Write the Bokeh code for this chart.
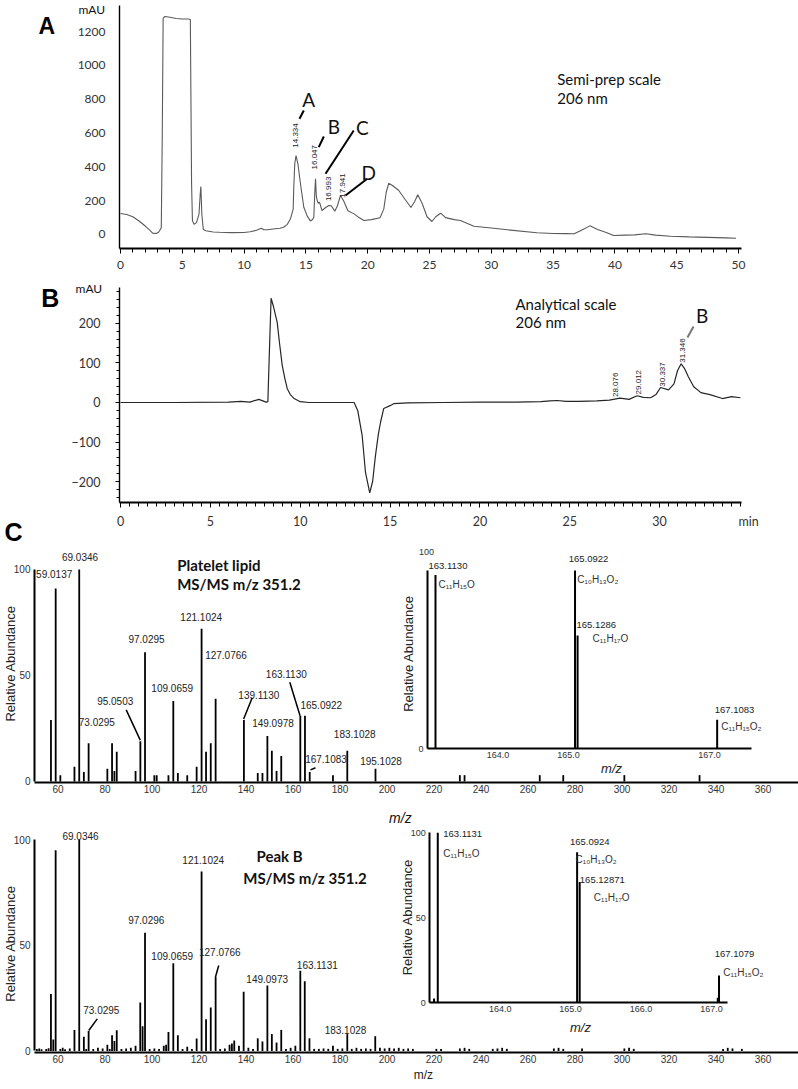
import math
from bokeh.plotting import figure
from bokeh.layouts import column
from bokeh.models import Range1d, LinearAxis, FixedTicker, Label, PrintfTickFormatter
from bokeh.core.properties import value
from bokeh.embed import file_html
from bokeh.resources import INLINE

# ---------------- Panel A: semi-prep chromatogram (min, mAU) ----------------
semi_time = [0, 0.5, 1, 1.5, 2, 2.3, 2.6, 2.9, 3.1, 3.3, 3.38, 3.45, 3.6, 4.0, 4.5, 5.0, 5.5, 5.65,
             5.75, 5.82, 5.95, 6.15, 6.35, 6.45, 6.5, 6.58, 6.7, 6.9, 7.5, 8, 9, 10, 10.5, 11, 11.4,
             11.6, 11.9, 12.5, 12.9, 13.2, 13.5, 13.75, 13.97, 14.02, 14.1, 14.2, 14.35, 14.56, 14.83,
             15.1, 15.37, 15.55, 15.64, 15.72, 15.78, 15.84, 15.91, 16.0, 16.1, 16.3, 16.6, 16.85, 17.05,
             17.34, 17.55, 17.8, 18.05, 18.4, 18.9, 19.3, 19.7, 20.3, 21.0, 21.3, 21.5, 21.7, 22.0, 22.5,
             23.0, 23.5, 23.8, 24.05, 24.4, 24.8, 25.2, 25.5, 25.9, 26.3, 27.0, 27.5, 28.6, 30.0, 31.3,
             33.7, 35.0, 36.0, 36.7, 37.3, 37.97, 38.6, 39.3, 39.9, 40.8, 41.6, 42.5, 43.3, 44.5, 46.0,
             47.5, 49.0, 49.8]
semi_mau = [124, 118, 105, 80, 50, 30, 8, 6, 15, 40, 600, 1280, 1290, 1285, 1278, 1275, 1275, 1272,
            300, 83, 60, 70, 120, 240, 284, 120, 30, 22, 15, 13, 11, 12, 16, 25, 37,
            28, 28, 34, 37, 43, 60, 93, 150, 280, 420, 467, 420, 300, 161,
            110, 79, 90, 102, 250, 330, 230, 201, 185, 191, 142, 160, 172, 170,
            138, 170, 231, 200, 140, 122, 100, 83, 88, 99, 150, 250, 303, 290, 262,
            210, 160, 195, 235, 185, 105, 77, 105, 126, 100, 88, 83, 49, 38, 28,
            10, 6, 5, 4, 25, 51, 30, 12, -6, -4, -2, 4, -4, -10, -14,
            -17, -20, -22]
semi_peak_rt = ["14.334", "16.047", "16.993", "17.941"]
semi_peak_names = ["A", "B", "C", "D"]
semi_xticks = [0, 5, 10, 15, 20, 25, 30, 35, 40, 45, 50]
semi_yticks = [0, 200, 400, 600, 800, 1000, 1200]

# ---------------- Panel B: analytical chromatogram (min, mAU) ----------------
anal_time = [0, 3, 6, 6.7, 7.2, 7.7, 8.1, 8.2, 8.3, 8.38, 8.5, 8.72, 8.85, 9.0, 9.15, 9.28, 9.45,
             9.64, 10.0, 10.5, 12.0, 13.0, 13.2, 13.45, 13.63, 13.87, 14.03, 14.19, 14.35, 14.47,
             14.65, 15.0, 15.2, 16.0, 18.0, 20.0, 22.0, 23.4, 23.9, 24.3, 24.8, 25.5, 26.5, 27.2,
             27.8, 28.3, 28.75, 29.1, 29.5, 29.8, 30.05, 30.5, 30.8, 31.0, 31.2, 31.4, 31.6, 31.9,
             32.3, 32.8, 33.5, 34.0, 34.5]
anal_mau = [0, 0, 1, 3, 1, 8, 1, 2, 150, 264, 245, 203, 150, 94, 60, 35, 20,
            11, 2, 0, 0, 0, -20, -84, -176, -229, -200, -134, -80, -50,
            -15, -8, -3, -1, 0, 1, 1, 2, 4, 5, 3, 3, 4, 6,
            11, 8, 17, 13, 12, 20, 38, 32, 47, 81, 98, 85, 65, 40,
            25, 20, 10, 15, 12]
anal_peak_rt = ["28.076", "29.012", "30.337", "31.346"]
anal_xticks = [0, 5, 10, 15, 20, 25, 30]
anal_yticks = [-200, -100, 0, 100, 200]

# ---------------- Panel C top: platelet lipid MS/MS m/z 351.2 ----------------
lipid_mz = [57, 59.0137, 61, 67, 69.0346, 71, 73.0295, 81, 83, 84, 85, 93, 95.0503, 97.0295,
            101, 102, 107, 109.0659, 111, 115, 119, 121.1024, 123, 125, 127.0766, 139.1130,
            145, 147, 149.0978, 151, 153, 155, 163.1130, 165.0922, 167.1083, 177, 183.1028,
            195.1028, 231, 233, 265, 275, 301, 333]
lipid_int = [29, 91, 3, 7, 100, 4.5, 18, 6, 18, 5, 14, 5, 19, 61,
             3, 3, 3, 38, 4, 3, 7, 72, 14, 18, 39, 29,
             4, 4, 21.5, 14.5, 5, 12, 31, 31, 4.5, 3, 14.5,
             6, 3, 3, 3, 3, 3, 3]
lipid_label_text = ["69.0346", "59.0137", "121.1024", "97.0295", "127.0766", "109.0659", "95.0503",
                    "73.0295", "139.1130", "163.1130", "165.0922", "149.0978", "183.1028",
                    "167.1083", "195.1028"]
lipid_inset_mz = [163.1130, 165.0922, 165.1286, 167.1083]
lipid_inset_int = [97.5, 100, 63.5, 16.3]
lipid_inset_text = ["163.1130", "165.0922", "165.1286", "167.1083"]
lipid_inset_formula = ["C\u2081\u2081H\u2081\u2085O", "C\u2081\u2080H\u2081\u2083O\u2082",
                       "C\u2081\u2081H\u2081\u2087O", "C\u2081\u2081H\u2081\u2085O\u2082"]
lipid_inset_xticks = [164, 165, 167]

# ---------------- Panel C bottom: peak B MS/MS m/z 351.2 ----------------
peakb_mz = [51, 52, 53, 55, 56, 57, 58, 59.0, 61, 62, 63, 65, 67, 69.0346, 71, 72, 73.0295, 75,
            77, 79, 81, 82, 83, 84, 85, 87, 89, 91, 93, 95, 96, 97.0296, 99, 101, 103, 105, 106,
            107, 109.0659, 111, 113, 115, 117, 119, 121.1024, 123, 125, 127.0766, 129, 131, 133,
            134, 135, 137, 139, 141, 143, 145, 147, 149.0973, 151, 153, 155, 157, 159, 161,
            163.1131, 165, 167, 169, 171, 173, 175, 177, 179, 181, 183.1028, 185, 187, 189, 191,
            193, 195, 197, 199, 201, 203, 205, 207, 209, 211, 221, 223, 231, 233, 235, 245, 247,
            249, 251, 271, 273, 275, 283, 301, 303, 305, 343, 345, 347, 351]
peakb_int = [1, 1.2, 0.8, 1, 1.3, 27, 5.5, 95, 1, 1.5, 0.8, 1.2, 10, 100, 6.7, 1, 9.5, 1,
             1.5, 1.2, 3, 1, 7.4, 4.7, 9.8, 1, 1.2, 1.5, 2.5, 23, 11.7, 56, 1, 1.2, 1, 2.5, 3,
             9, 41.5, 7.4, 1, 2, 1, 5.9, 85, 15, 20.6, 35, 1, 1.2, 3,
             3.5, 5, 2.5, 28, 1.5, 1, 6, 4.5, 31, 8, 4, 10, 1, 1.5, 2.5,
             38, 33, 6, 1, 1, 1.2, 1, 2.5, 1, 1.2, 8, 1, 1.5, 1, 1.2,
             1, 7, 1.5, 1.2, 1.5, 1.2, 1.5, 1, 1.2, 1, 1, 1, 1.2, 1.5, 1, 1, 1.2,
             1.5, 1, 1.2, 1.5, 1, 1.2, 1.2, 1.5, 1, 1, 1.5, 1.2, 1]
peakb_label_text = ["69.0346", "121.1024", "97.0296", "109.0659", "127.0766", "163.1131",
                    "149.0973", "73.0295", "183.1028"]
peakb_inset_mz = [163.06, 163.1131, 165.0924, 165.12871, 167.09, 167.1079]
peakb_inset_int = [2.5, 100, 88.6, 71, 3, 16]
peakb_inset_text = ["163.1131", "165.0924", "165.12871", "167.1079"]
peakb_inset_formula = ["C\u2081\u2081H\u2081\u2085O", "C\u2081\u2080H\u2081\u2083O\u2082",
                       "C\u2081\u2081H\u2081\u2087O", "C\u2081\u2081H\u2081\u2085O\u2082"]
peakb_inset_xticks = [164, 165, 166, 167]

ms_xticks = list(range(60, 361, 20))
ms_yticks = [0, 50, 100]

# ---------------- annotation placement (data coordinates) ----------------
semi_rt_pos = ([14.16, 15.70, 16.83, 17.94], [586, 457, 270, 290])
semi_name_pos = ([15.23, 17.26, 19.56, 20.09], [799, 639, 635, 369])
semi_leader = ([14.48, 16.04, 16.59, 18.2], [685, 517, 359, 231], [14.83, 16.45, 18.87, 19.96], [734, 580, 615, 330])
anal_rt_pos = ([27.55, 28.84, 30.14, 31.26], [44.8, 51.4, 70.9, 131.6])
lipid_label_pos = ([69.36, 58.38, 120.94, 97.66, 131.49, 108.6, 84.34, 76.51, 145.45, 157.15, 172.04, 151.49, 186.26, 174.04, 197.45],
                   [106.1, 98.0, 77.5, 67.3, 59.9, 44.0, 38.2, 28.0, 41.0, 50.8, 36.2, 27.7, 22.5, 10.7, 9.6])
lipid_leader = ([95.0, 139.0, 163.0, 167.45], [19.5, 29.5, 31, 5.5], [89.02, 142.64, 158.64, 169.57], [33.8, 39.5, 46.8, 6.5])
peakb_label_pos = ([69.57, 121.79, 97.57, 108.6, 128.85, 170.34, 149.02, 78.43, 182.34],
                   [102.0, 90.5, 62.1, 45.2, 46.8, 40.8, 34.2, 19.5, 10.0])
peakb_leader = ([73.1, 127.0], [9.7, 35], [76.7, 128.4], [15.2, 40.5])
lipid_inset_text_pos = ([163.014, 165.284, 165.113, 167.355], [102.8, 106.2, 69.2, 21.5], ["left", "center", "left", "center"])
lipid_inset_formula_pos = ([163.156, 165.123, 165.340, 167.166], [92.1, 95.0, 61.9, 12.7])
peakb_inset_text_pos = ([163.19, 165.273, 165.131, 167.328], [99.4, 94.5, 72.4, 28.8], ["left", "center", "left", "center"])
peakb_inset_formula_pos = ([163.19, 165.07, 165.33, 167.168], [87.6, 84.1, 62.1, 18.0])

ARIAL = "Liberation Sans"
CAL = "Lato"
W = 798


def base_fig(h, xr, yr):
    p = figure(width=W, height=h, x_range=Range1d(*xr), y_range=Range1d(*yr),
               output_backend="svg", toolbar_location=None, title=None,
               x_axis_location=None, y_axis_location=None,
               min_border_left=0, min_border_right=0, min_border_top=0, min_border_bottom=0)
    p.outline_line_color = None
    p.grid.visible = False
    p.background_fill_color = "white"
    p.border_fill_color = "white"
    return p


def add_axis(p, side, loc, bounds, ticker, font, size, lw, standoff, tick_out=0, minor_out=0,
             color="#333", xr="default", yr="default", formatter=None):
    ax = LinearAxis(x_range_name=xr, y_range_name=yr, fixed_location=loc, bounds=bounds,
                    ticker=ticker)
    if formatter is not None:
        ax.formatter = formatter
    ax.axis_line_color = "black"
    ax.axis_line_width = lw
    ax.major_label_text_font = font
    ax.major_label_text_font_size = size
    ax.major_label_text_color = color
    ax.major_label_standoff = standoff
    ax.major_tick_in = 0
    ax.major_tick_out = tick_out
    ax.minor_tick_in = 0
    ax.minor_tick_out = minor_out
    ax.major_tick_line_color = "black"
    ax.minor_tick_line_color = "black"
    p.add_layout(ax, side)
    return ax


def lab(p, x, y, text, size, font=ARIAL, style="normal", align="left", baseline="middle",
        angle=0.0, color="#111", xr="default", yr="default"):
    p.add_layout(Label(x=x, y=y, text=text, text_font=font, text_font_size=size,
                       text_font_style=style, text_align=align, text_baseline=baseline,
                       angle=angle, text_color=color, x_range_name=xr, y_range_name=yr))


# ======================= Figure A (canvas = frame) =======================
fa = base_fig(278, (-9.709, 54.854), (-260.4, 1384.6))
fa.line(semi_time, semi_mau, line_color="#5a5a5a", line_width=1.1)
add_axis(fa, "below", -82.8, (-0.081, 50.24),
         FixedTicker(ticks=semi_xticks, minor_ticks=list(range(0, 51))),
         CAL, "12px", 2, 8, tick_out=5, minor_out=4)
add_axis(fa, "left", -0.081, (-82.8, 1355), FixedTicker(ticks=semi_yticks),
         CAL, "12px", 1.4, 14)
fa.text(x=semi_rt_pos[0], y=semi_rt_pos[1], text=semi_peak_rt, angle=math.pi / 2,
        text_font=value(ARIAL), text_font_size="8px", text_align="center",
        text_baseline="middle", text_color="#222")
fa.segment(x0=semi_leader[0], y0=semi_leader[1], x1=semi_leader[2], y1=semi_leader[3],
           line_color="black", line_width=2)
fa.text(x=semi_name_pos[0], y=semi_name_pos[1], text=semi_peak_names,
        text_font=value(CAL), text_font_size="19px", text_align="center",
        text_baseline="middle", text_color="#111")
lab(fa, 35.33, 921, "Semi-prep scale", "15px", font=CAL)
lab(fa, 35.33, 806.5, "206 nm", "15px", font=CAL)
lab(fa, -3.4, 1331, "mAU", "12px", font=CAL, baseline="alphabetic")
lab(fa, -6.63, 1230.8, "A", "23px", style="bold", baseline="alphabetic", color="black")

# ======================= Figure B (ref y 278..545) =======================
fb = base_fig(267, (-6.678, 37.730), (-362.0, 313.9))
fb.line(anal_time, anal_mau, line_color="#262626", line_width=1.2)
add_axis(fb, "below", -253.2, (-0.056, 34.56),
         FixedTicker(ticks=anal_xticks, minor_ticks=[i * 0.5 for i in range(0, 70)]),
         CAL, "12.5px", 2, 8, tick_out=5, minor_out=4)
add_axis(fb, "left", -0.056, (-253.2, 291.1),
         FixedTicker(ticks=anal_yticks, minor_ticks=list(range(-240, 281, 20))),
         CAL, "12.5px", 1.4, 15, tick_out=4, minor_out=3)
fb.text(x=anal_rt_pos[0], y=anal_rt_pos[1], text=anal_peak_rt, angle=math.pi / 2,
        text_font=value(ARIAL), text_font_size="8px", text_align="center",
        text_baseline="middle", text_color="#222")
fb.segment(x0=[31.55], y0=[164.6], x1=[31.89], y1=[192.4], line_color="#777", line_width=2)
lab(fb, 32.37, 220.3, "B", "19px", font=CAL, align="center")
lab(fb, 21.98, 249.9, "Analytical scale", "15px", font=CAL)
lab(fb, 21.98, 203.3, "206 nm", "15px", font=CAL)
lab(fb, 34.95, -301, "min", "12.5px", font=CAL, align="center", color="#333")
lab(fb, -2.5, 288.6, "mAU", "12px", font=CAL)
lab(fb, -4.41, 263.3, "B", "25px", style="bold", baseline="alphabetic", color="black")
lab(fb, -6.45, -329.0, "C", "25px", style="bold", baseline="alphabetic", color="black")


# ======================= Spectrum figures =======================
def spectrum(h, xr, yr, x_axis_y, mz, inten, ltext, lpos, leader, iyr, ixr, inset_mz, inset_int,
             itext, itext_pos, iform, iform_pos, ixticks, iyticks, ixbounds):
    p = base_fig(h, xr, yr)
    p.extra_x_ranges = {"ix": Range1d(*ixr)}
    p.extra_y_ranges = {"iy": Range1d(*iyr)}
    add_axis(p, "below", x_axis_y, (50.0, 375.1), FixedTicker(ticks=ms_xticks),
             ARIAL, "10px", 2, 3)
    add_axis(p, "left", 50.0, (0, 100), FixedTicker(ticks=ms_yticks), ARIAL, "10px", 2, 4)
    p.segment(x0=mz, y0=[0] * len(mz), x1=mz, y1=inten, line_color="black", line_width=1.8)
    p.text(x=lpos[0], y=lpos[1], text=ltext, text_font=value(ARIAL), text_font_size="10px",
           text_align="center", text_baseline="middle", text_color="#222")
    p.segment(x0=leader[0], y0=leader[1], x1=leader[2], y1=leader[3], line_color="black",
              line_width=1.5)
    # inset spectrum
    p.segment(x0=inset_mz, y0=[0] * len(inset_mz), x1=inset_mz, y1=inset_int,
              line_color="black", line_width=2, x_range_name="ix", y_range_name="iy")
    for al in ("left", "center"):
        idx = [i for i, a in enumerate(itext_pos[2]) if a == al]
        p.text(x=[itext_pos[0][i] for i in idx], y=[itext_pos[1][i] for i in idx],
               text=[itext[i] for i in idx], text_font=value(ARIAL), text_font_size="9.5px",
               text_align=al, text_baseline="middle", text_color="#222",
               x_range_name="ix", y_range_name="iy")
    p.text(x=iform_pos[0], y=iform_pos[1], text=iform, text_font=value(ARIAL),
           text_font_size="10px", text_align="left", text_baseline="middle", text_color="#333",
           x_range_name="ix", y_range_name="iy")
    add_axis(p, "left", 163.0, (0, 100), FixedTicker(ticks=iyticks), ARIAL, "9px", 2, 4,
             xr="ix", yr="iy")
    add_axis(p, "below", 0, ixbounds, FixedTicker(ticks=ixticks), ARIAL, "9px", 2, 3,
             xr="ix", yr="iy", formatter=PrintfTickFormatter(format="%.1f"))
    return p


# top spectrum canvas: ref y 545..828
fc1 = spectrum(283, (35.532, 375.106), (-22.170, 111.32), -0.47, lipid_mz, lipid_int,
               lipid_label_text, lipid_label_pos, lipid_leader, (-44.70, 114.02),
               (156.943, 168.262), lipid_inset_mz, lipid_inset_int, lipid_inset_text,
               lipid_inset_text_pos, lipid_inset_formula, lipid_inset_formula_pos,
               lipid_inset_xticks, [0], (163.0, 167.6))
lab(fc1, 110.72, 102.2, "Platelet lipid", "15px", font=CAL, style="bold")
lab(fc1, 110.72, 93.3, "MS/MS m/z 351.2", "15px", font=CAL, style="bold")
lab(fc1, 162.986, 110.1, "100", "9px", align="center", color="#333", xr="ix", yr="iy")
lab(fc1, 162.73, 53.4, "Relative Abundance", "13px", align="center", angle=math.pi / 2,
    color="#222", xr="ix", yr="iy")
lab(fc1, 165.61, -11.0, "m/z", "13px", style="italic", align="center", color="#222", xr="ix", yr="iy")
lab(fc1, 39.79, 55.7, "Relative Abundance", "13px", align="center", angle=math.pi / 2, color="#222")
lab(fc1, 205.7, -17.0, "m/z", "14px", style="italic", align="center", color="#111")

fc2 = spectrum(261, (35.532, 375.106), (-18.23, 105.35), -0.71, peakb_mz, peakb_int,
               peakb_label_text, peakb_label_pos, peakb_leader, (-51.0, 102.53),
               (156.902, 168.237), peakb_inset_mz, peakb_inset_int, peakb_inset_text,
               peakb_inset_text_pos, peakb_inset_formula, peakb_inset_formula_pos,
               peakb_inset_xticks, [0, 50, 100], (163.0, 167.23))
lab(fc2, 144.47, 92.2, "Peak B", "15px", font=CAL, style="bold")
lab(fc2, 138.81, 82.0, "MS/MS m/z 351.2", "15px", font=CAL, style="bold")
lab(fc2, 162.68, 50.4, "Relative Abundance", "13px", align="center", angle=math.pi / 2,
    color="#222", xr="ix", yr="iy")
lab(fc2, 165.14, -14.4, "m/z", "13px", style="italic", align="center", color="#222", xr="ix", yr="iy")
lab(fc2, 39.79, 50.9, "Relative Abundance", "13px", align="center", angle=math.pi / 2, color="#222")
lab(fc2, 215.5, -11.6, "m/z", "12px", align="center", color="#222")

layout = column(fa, fb, fc1, fc2, spacing=0)
open("out.html", "w").write(file_html(layout, INLINE))
